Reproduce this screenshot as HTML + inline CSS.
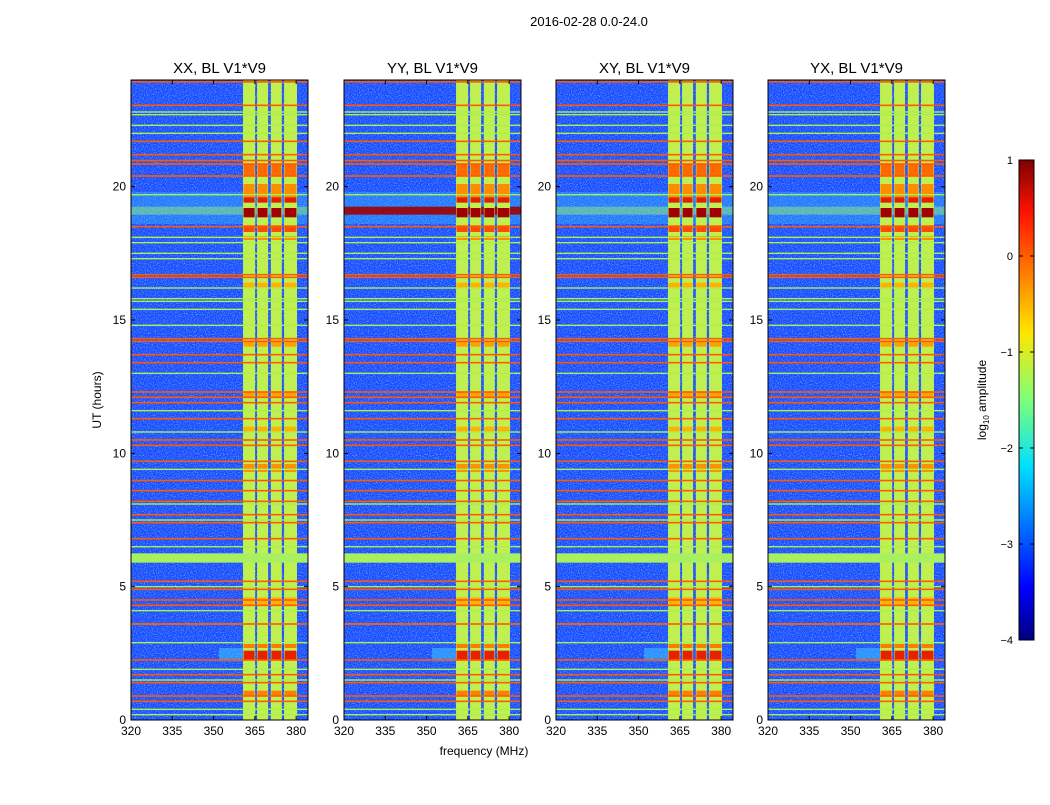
<!DOCTYPE html>
<html><head><meta charset="utf-8"><style>
body{margin:0;background:#fff;font-family:"Liberation Sans",sans-serif}
svg text{font-family:"Liberation Sans",sans-serif;fill:#000}
</style></head><body>
<svg id="fig" width="1050" height="800" viewBox="0 0 1050 800">
<defs>
<filter id="noise" x="0" y="0" width="100%" height="100%">
<feTurbulence type="fractalNoise" baseFrequency="0.9" numOctaves="1" seed="3"/>
<feColorMatrix type="matrix" values="0 0 0 0 0.1  0 0 0 1.4 -0.45  0 0 0 0.6 0.6  0 0 0 2.2 -0.9"/>
</filter>
<linearGradient id="jet" x1="0" y1="1" x2="0" y2="0">
<stop offset="0" stop-color="#00007f"/><stop offset="0.11" stop-color="#0000ff"/>
<stop offset="0.36" stop-color="#00dfff"/><stop offset="0.5" stop-color="#7dff7a"/>
<stop offset="0.64" stop-color="#ffe600"/><stop offset="0.89" stop-color="#ff1300"/>
<stop offset="1" stop-color="#7f0000"/></linearGradient>
</defs>
<text x="589" y="26" font-size="13" text-anchor="middle">2016-02-28 0.0-24.0</text>
<g id="panels"></g>
<text x="484" y="755" font-size="12" text-anchor="middle">frequency (MHz)</text>
<text transform="translate(101,400) rotate(-90)" font-size="12" text-anchor="middle">UT (hours)</text>
<g>
<rect x="1019" y="160" width="15" height="480" fill="url(#jet)" stroke="#000" stroke-width="1"/>
<g id="cbticks"></g>
<text transform="translate(986,400) rotate(-90)" font-size="12" text-anchor="middle">log<tspan font-size="8" dy="3">10</tspan><tspan dy="-3"> amplitude</tspan></text>
</g>
</svg>
<script>
const titles=["XX, BL V1*V9","YY, BL V1*V9","XY, BL V1*V9","YX, BL V1*V9"];
const panelLefts=[131,344,556,768];
const xTicks=[320,335,350,365,380];
const yTicks=[0,5,10,15,20];
const cbTicks=[1,0,-1,-2,-3,-4];
// RFI horizontal lines: hours, colors
const orangeHours=[23.93,23.05,21.7,21.2,20.98,20.85,20.4,18.5,16.7,16.6,14.3,14.2,13.7,13.4,12.3,12.1,11.9,11.3,10.5,10.3,9.7,8.98,8.6,8.2,7.7,7.4,6.8,5.2,4.9,4.5,4.3,3.6,2.25,1.7,1.4,0.9,0.7];
const greenHours=[22.8,22.7,22.3,22.0,19.7,18.1,17.9,17.5,17.3,16.2,15.8,15.7,15.4,14.8,13.0,11.6,10.8,9.4,8.1,7.5,6.5,5.0,4.1,3.6,2.9,1.9,1.5,0.4,0.2];
const greenBand=[5.9,6.25];
const bandFreqs=[[360.7,365.1],[365.8,369.8],[370.8,374.8],[375.6,380.3]];
// hot blocks in band: [hourStart, hourEnd, color]
const hotStart=[20.4,19.6,19.4,18.85,18.3,18.0,2.25,2.7,14.0,9.3,10.8,4.3,0.9,12.1,16.2];
const hotEnd=[20.85,20.1,19.6,19.2,18.55,18.15,2.6,2.85,14.2,9.6,11.0,4.6,1.1,12.3,16.4];
const hotColor=["#ff6a00","#ff8c00","#e02000","#a00000","#ff4a00","#ff8c00","#e82000","#ff7a00","#ffa000","#ff9000","#ffb000","#ffb000","#ff8000","#ffa000","#ffb000"];
const NS="http://www.w3.org/2000/svg";
const W=177,H=640,Y0=80,FMIN=320,FMAX=384.3,HMAX=24;
function xs(f){return (f-FMIN)/(FMAX-FMIN)*W;}
function ys(h){return H-h/HMAX*H;}
function mk(tag,attrs,parent){const e=document.createElementNS(NS,tag);for(const k in attrs)e.setAttribute(k,attrs[k]);parent.appendChild(e);return e;}
const root=document.getElementById('panels');
panelLefts.forEach((px,pi)=>{
  const g=mk('g',{transform:`translate(${px},${Y0})`},root);
  
  
  mk('clipPath',{id:'cp'+pi},g).appendChild(document.createElementNS(NS,'rect')).setAttribute('width',W);
  document.querySelector('#cp'+pi+' rect').setAttribute('height',H);
  const c=mk('g',{'clip-path':`url(#cp${pi})`},g);
  mk('rect',{width:W,height:H,fill:'#1a48ff'},c);
  mk('rect',{width:W,height:H,filter:'url(#noise)'},c);
  // cyan glow region
  mk('rect',{x:0,y:ys(19.8),width:W,height:ys(18.6)-ys(19.8),fill:'#40c8ff',opacity:0.35},c);
  mk('rect',{x:0,y:ys(19.25),width:W,height:ys(18.95)-ys(19.25),fill:pi==1?'#a00000':'#90f070',opacity:pi==1?0.9:0.5},c);
  mk('rect',{x:xs(352),y:ys(2.7),width:xs(361)-xs(352),height:ys(2.2)-ys(2.7),fill:'#40d0ff',opacity:0.5},c);
  // band
  bandFreqs.forEach((bf,bi)=>{
    const r=mk('rect',{x:xs(bf[0]),y:0,width:xs(bf[1])-xs(bf[0]),height:H,fill:'#c0f050'},c);
    
    
    hotStart.forEach((hs,k)=>{
      const b=mk('rect',{x:xs(bf[0])+0.5,y:ys(hotEnd[k]),width:xs(bf[1])-xs(bf[0])-1,height:ys(hotStart[k])-ys(hotEnd[k]),fill:hotColor[k]},c);
      
      
    });
  });
  mk('rect',{x:0,y:ys(greenBand[1]),width:W,height:ys(greenBand[0])-ys(greenBand[1]),fill:'#a8f060'},c);
  greenHours.forEach(h=>{const l=mk('rect',{x:0,y:ys(h)-0.7,width:W,height:1.4,fill:'#a8f050'},c);
    
    });
  orangeHours.forEach(h=>{const l=mk('rect',{x:0,y:ys(h)-0.8,width:W,height:1.6,fill:'#ff5a00'},c);
    
    });
  mk('rect',{x:0,y:0,width:W,height:H,fill:'none',stroke:'#000','stroke-width':1},g);
  const t=mk('text',{x:W/2,y:-7,'font-size':15,'text-anchor':'middle'},g);t.textContent=titles[pi];
  
  
  xTicks.forEach(v=>{const x=xs(v);
    mk('line',{x1:x,x2:x,y1:H,y2:H-4,stroke:'#000'},g);mk('line',{x1:x,x2:x,y1:0,y2:4,stroke:'#000'},g);
    const tx=mk('text',{x:x,y:H+15,'font-size':12,'text-anchor':'middle'},g);tx.textContent=v;
    
    });
  yTicks.forEach(v=>{const y=ys(v);
    mk('line',{x1:0,x2:4,y1:y,y2:y,stroke:'#000'},g);mk('line',{x1:W,x2:W-4,y1:y,y2:y,stroke:'#000'},g);
    const ty=mk('text',{x:-5,y:y+4,'font-size':12,'text-anchor':'end'},g);ty.textContent=v;
    
    });
});
const cb=document.getElementById('cbticks');
cbTicks.forEach(v=>{const y=160+(1-v)*96;
  mk('line',{x1:1019,x2:1023,y1:y,y2:y,stroke:'#000'},cb);mk('line',{x1:1030,x2:1034,y1:y,y2:y,stroke:'#000'},cb);
  const t=mk('text',{x:1013,y:y+4,'font-size':11,'text-anchor':'end'},cb);t.textContent=v<0?'\u2212'+(-v):v;
  
  });
</script>
</body></html>
